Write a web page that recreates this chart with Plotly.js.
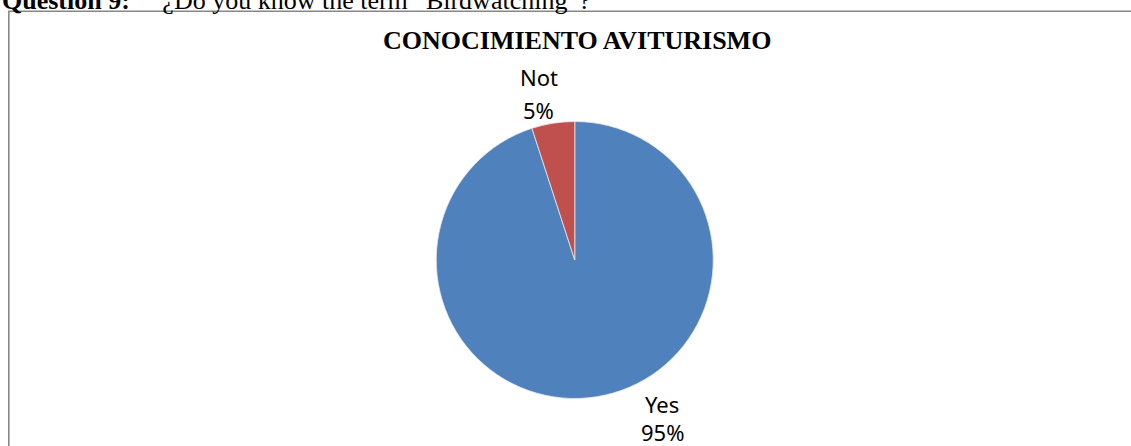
<!DOCTYPE html>
<html>
<head>
<meta charset="utf-8">
<script src="https://cdn.plot.ly/plotly-3.0.1.min.js"></script>
<style>
html,body{margin:0;padding:0;background:#fff;}
#chart{width:1131px;height:446px;}
</style>
</head>
<body>
<div id="chart"></div>
<script>
// ---- data ----
const labels = ["Yes", "Not"];
const values = [95, 5];
const colors = ["#4F81BD", "#C0504D"];
const chartTitle = "CONOCIMIENTO AVITURISMO";
const questionBold = "Question 9:";
const questionText = "\u00a0\u00a0\u00a0\u00a0\u00a0¿Do you know the term \u201cBirdwatching\u201d?";

// ---- layout helpers (pixel -> paper) ----
const W = 1131, H = 446;
const px = x => x / W;
const py = y => 1 - y / H;

// label anchor points (pixel), per category
const labelAnchor = { "Yes": [662, 403.5, 431.5], "Not": [538.5, 77, 110] };

const total = values.reduce((a, b) => a + b, 0);
const annotations = [];
labels.forEach((lab, i) => {
  const a = labelAnchor[lab];
  const pct = Math.round(values[i] / total * 100) + "%";
  annotations.push({x: px(a[0]), y: py(a[1]), xref: "paper", yref: "paper", text: lab,
    showarrow: false, xanchor: "center", yanchor: "middle",
    font: {family: "Noto Sans", size: 22, color: "#000"}});
  annotations.push({x: px(a[0]), y: py(a[2]), xref: "paper", yref: "paper", text: pct,
    showarrow: false, xanchor: "center", yanchor: "middle", borderpad: 0,
    font: {family: "Noto Sans", size: 22, color: "#000"}});
});
annotations.push({x: px(381), y: py(40), xref: "paper", yref: "paper",
  text: "<b>" + chartTitle + "</b>", showarrow: false, xanchor: "left", yanchor: "middle",
  font: {family: "Liberation Serif", size: 26, color: "#000"}});
annotations.push({x: px(0), y: py(8), xref: "paper", yref: "paper", yshift: -8.5,
  text: "<b>" + questionBold + "</b>" + questionText, showarrow: false,
  xanchor: "left", yanchor: "bottom",
  font: {family: "Liberation Serif", size: 26, color: "#000"}});

const trace = {
  type: "pie",
  labels: labels,
  values: values,
  sort: false,
  direction: "clockwise",
  rotation: 0,
  textinfo: "none",
  hoverinfo: "label+percent",
  marker: {colors: colors, line: {color: "#e8e8e8", width: 0.8}},
  domain: {x: [px(436), px(713.5)], y: [py(398.5), py(121.5)]},
  showlegend: false
};

const layout = {
  width: W, height: H,
  margin: {l: 0, r: 0, t: 0, b: 0},
  paper_bgcolor: "#fff",
  showlegend: false,
  annotations: annotations,
  shapes: [{type: "rect", xref: "paper", yref: "paper",
    x0: px(8.8), x1: px(1140), y0: py(460), y1: py(11.2),
    line: {color: "#878787", width: 1.6}, fillcolor: "rgba(0,0,0,0)"}]
};

Plotly.newPlot("chart", [trace], layout, {displayModeBar: false, staticPlot: true});
</script>
</body>
</html>
